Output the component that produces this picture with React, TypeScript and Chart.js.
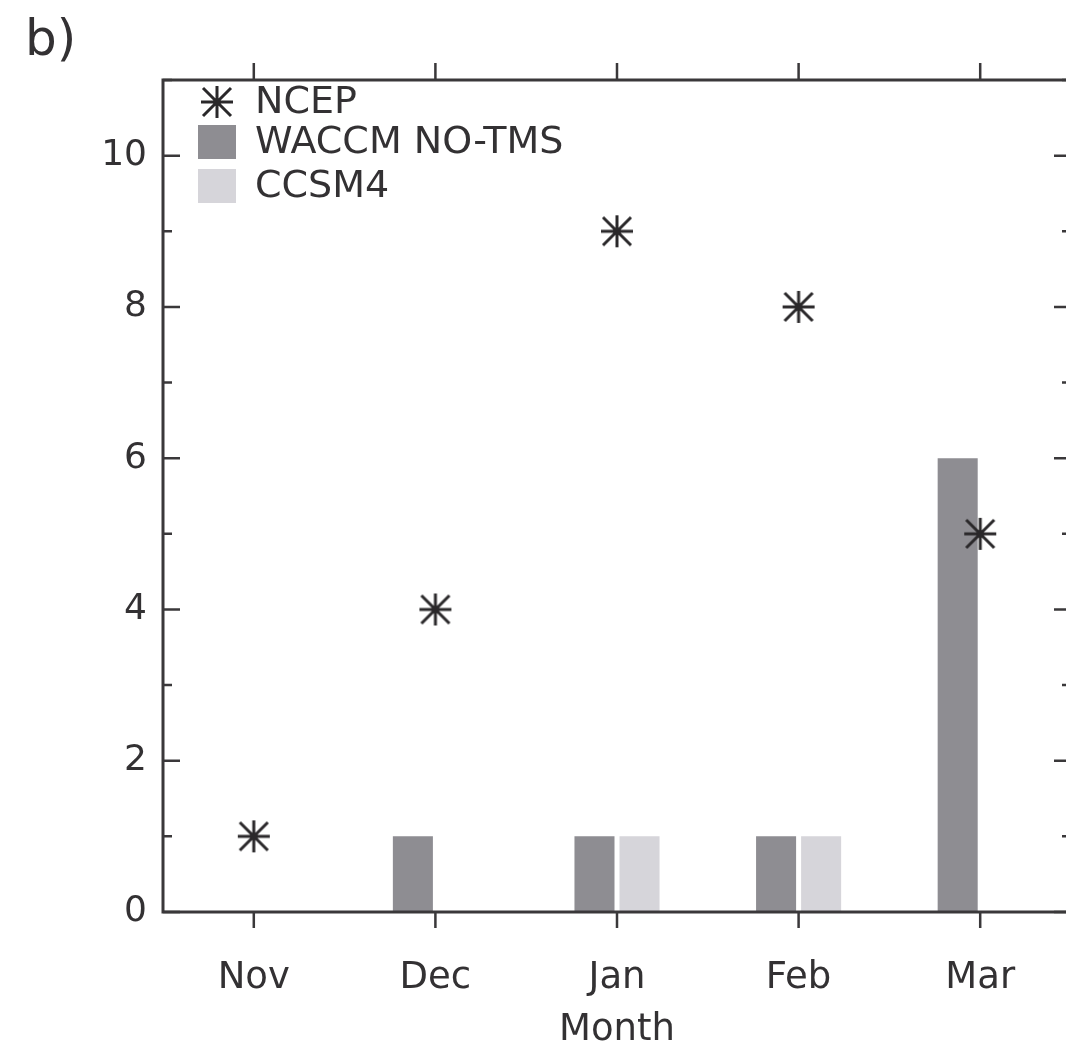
import React, { useEffect, useRef } from 'react';
import { Chart, registerables } from 'chart.js';

Chart.register(...registerables);

// ---- data ----
const months = ['Nov', 'Dec', 'Jan', 'Feb', 'Mar'];
const ncepValues = [1, 4, 9, 8, 5];
const waccmValues = [0, 1, 1, 1, 6];
const ccsm4Values = [0, 0, 1, 1, 0];
const seriesNames = ['NCEP', 'WACCM NO-TMS', 'CCSM4'];
const yMin = 0;
const yMax = 11;
const yLabelEvery = 2;
const panelLabel = 'b)';
const xTitle = 'Month';

// ---- styles ----
const FONT = '"DejaVu Sans", sans-serif';
const TEXT = '#333133';
const AXIS = '#3a383a';
const WACCM_COLOR = '#8e8d92';
const CCSM4_COLOR = '#d6d5da';
const STAR_COLOR = '#2a282a';

function makeStar(size: number): HTMLCanvasElement {
  const c = document.createElement('canvas');
  c.width = size;
  c.height = size;
  const g = c.getContext('2d')!;
  const m = size / 2;
  const p = 2;
  const d = 4;
  g.strokeStyle = STAR_COLOR;
  g.lineWidth = 3;
  g.lineCap = 'butt';
  g.beginPath();
  g.moveTo(p, m); g.lineTo(size - p, m);
  g.moveTo(m, p); g.lineTo(m, size - p);
  g.moveTo(d, d); g.lineTo(size - d, size - d);
  g.moveTo(size - d, d); g.lineTo(d, size - d);
  g.stroke();
  g.fillStyle = STAR_COLOR;
  g.beginPath();
  g.arc(m, m, 3.5, 0, Math.PI * 2);
  g.fill();
  return c;
}

const framePlugin = {
  id: 'frameTicks',
  afterDatasetsDraw(chart: any) {
    const { ctx, chartArea } = chart;
    const { left, right, top, bottom } = chartArea;
    const x = chart.scales.x;
    const y = chart.scales.y;
    ctx.save();
    ctx.strokeStyle = AXIS;
    ctx.lineWidth = 3;
    ctx.beginPath();
    ctx.rect(left, top, right - left, bottom - top);
    ctx.stroke();
    ctx.lineWidth = 2.5;
    ctx.beginPath();
    y.ticks.forEach((t: any) => {
      const py = y.getPixelForValue(t.value);
      const len = t.value % yLabelEvery === 0 ? 17 : 9;
      ctx.moveTo(left, py); ctx.lineTo(left + len, py);
      ctx.moveTo(right, py); ctx.lineTo(right - len, py);
    });
    months.forEach((_, i) => {
      const px = x.getPixelForValue(i);
      ctx.moveTo(px, bottom); ctx.lineTo(px, bottom + 16);
      ctx.moveTo(px, top); ctx.lineTo(px, top - 17);
    });
    ctx.stroke();
    ctx.restore();
  },
};

const legendPlugin = {
  id: 'insideLegend',
  afterDraw(chart: any) {
    const { ctx, chartArea } = chart;
    const markerX = chartArea.left + 54;
    const textX = chartArea.left + 92;
    const rowY = [chartArea.top + 22, chartArea.top + 62, chartArea.top + 106];
    ctx.save();
    ctx.font = `38px ${FONT}`;
    ctx.textBaseline = 'middle';
    ctx.textAlign = 'left';
    chart.data.datasets.forEach((ds: any, i: number) => {
      const cy = rowY[i];
      if (ds.type === 'line') {
        const img = ds.pointStyle as HTMLCanvasElement;
        ctx.drawImage(img, markerX - img.width / 2, cy - img.height / 2);
      } else {
        ctx.fillStyle = ds.backgroundColor;
        ctx.fillRect(markerX - 19, cy - 17, 38, 34);
      }
      ctx.fillStyle = TEXT;
      ctx.fillText(ds.label, textX, cy + 1);
    });
    ctx.restore();
  },
};

export default function App() {
  const ref = useRef<HTMLCanvasElement | null>(null);

  useEffect(() => {
    if (!ref.current) return;
    const star = makeStar(36);
    const chart = new Chart(ref.current, {
      type: 'bar',
      data: {
        labels: months,
        datasets: [
          {
            type: 'line',
            label: seriesNames[0],
            data: ncepValues,
            showLine: false,
            pointStyle: star as any,
            pointRadius: 17,
            borderColor: STAR_COLOR,
            backgroundColor: STAR_COLOR,
          } as any,
          {
            type: 'bar',
            label: seriesNames[1],
            data: waccmValues,
            backgroundColor: WACCM_COLOR,
            borderWidth: 0,
            categoryPercentage: 0.496,
            barPercentage: 0.889,
          },
          {
            type: 'bar',
            label: seriesNames[2],
            data: ccsm4Values,
            backgroundColor: CCSM4_COLOR,
            borderWidth: 0,
            categoryPercentage: 0.496,
            barPercentage: 0.889,
          },
        ],
      },
      options: {
        responsive: false,
        animation: false,
        devicePixelRatio: 1,
        layout: { autoPadding: false, padding: { left: 25, right: 9, top: 0, bottom: 0 } },
        plugins: {
          legend: { display: false },
          tooltip: { enabled: false },
          title: {
            display: true,
            text: panelLabel,
            align: 'start',
            color: TEXT,
            font: { family: FONT, size: 50, weight: 'normal', lineHeight: 1.2 },
            padding: { top: 12, bottom: 8 },
          },
        },
        scales: {
          x: {
            type: 'category',
            offset: true,
            grid: { display: false, drawTicks: false },
            border: { display: false },
            ticks: {
              color: TEXT,
              font: { family: FONT, size: 37, lineHeight: 1.2 },
              padding: 44,
            },
            title: {
              display: true,
              text: xTitle,
              color: TEXT,
              font: { family: FONT, size: 37, lineHeight: 0.85 },
              padding: { top: 0, bottom: 0 },
            },
            afterFit(scale: any) {
              scale.height = 134;
              scale.paddingLeft = 0;
              scale.paddingRight = 0;
            },
          },
          y: {
            type: 'linear',
            min: yMin,
            max: yMax,
            grid: { display: false, drawTicks: false },
            border: { display: false },
            ticks: {
              stepSize: 1,
              color: TEXT,
              font: { family: FONT, size: 36 },
              padding: 16,
              callback: (v: any) => (Number(v) % yLabelEvery === 0 ? String(v) : ''),
            },
            afterFit(scale: any) {
              scale.width = 138;
              scale.paddingTop = 0;
              scale.paddingBottom = 0;
            },
          },
        },
      },
      plugins: [framePlugin, legendPlugin],
    });
    return () => chart.destroy();
  }, []);

  return (
    <div
      style={{
        position: 'absolute',
        left: 0,
        top: 0,
        width: 1066,
        height: 1046,
        overflow: 'hidden',
        background: '#ffffff',
      }}
    >
      <canvas ref={ref} width={1080} height={1046} style={{ width: 1080, height: 1046, display: 'block' }} />
    </div>
  );
}
